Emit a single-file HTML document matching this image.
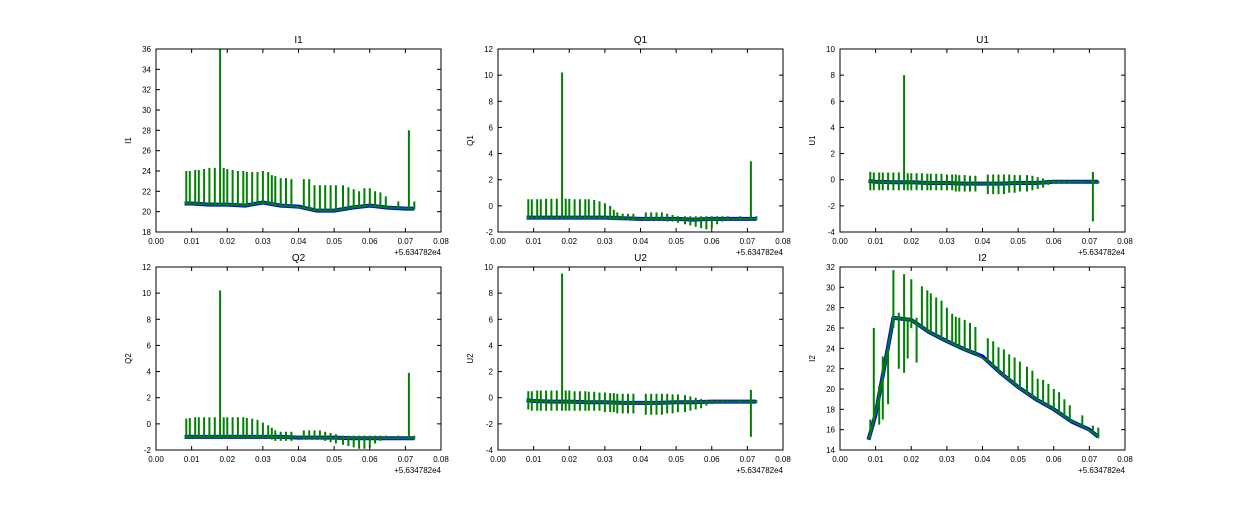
<!DOCTYPE html>
<html><head><meta charset="utf-8">
<style>
body{margin:0;background:#fff;}
svg text{font-family:"Liberation Sans","DejaVu Sans",sans-serif;}
</style></head>
<body>
<svg id="fig" width="1250" height="500" xmlns="http://www.w3.org/2000/svg"></svg>
<script>
const spikeX = [0.0085,0.0095,0.011,0.012,0.0135,0.015,0.0165,0.018,0.019,0.020,0.0215,0.023,0.0245,0.0255,0.027,0.0285,0.030,0.0315,0.0325,0.0335,0.035,0.0365,0.038,0.0415,0.043,0.0445,0.046,0.0475,0.049,0.0505,0.0525,0.054,0.0555,0.057,0.0585,0.060,0.0615,0.063,0.0645,0.068,0.071,0.0725];
const baseX = [0.008,0.01,0.015,0.02,0.025,0.03,0.035,0.04,0.045,0.05,0.055,0.06,0.065,0.07,0.0725];
const xTicks = [0.00,0.01,0.02,0.03,0.04,0.05,0.06,0.07,0.08];

const I1Base = [20.8,20.8,20.7,20.7,20.6,20.9,20.6,20.5,20.1,20.1,20.4,20.6,20.4,20.3,20.3];
const I1Top = [24.0,24.0,24.1,24.1,24.2,24.3,24.3,36,24.3,24.2,24.1,24.0,24.0,23.9,23.9,23.9,24.0,23.9,23.6,23.5,23.3,23.3,23.2,23.2,23.2,22.6,22.6,22.6,22.6,22.6,22.6,22.4,22.2,22.0,22.3,22.3,22.0,21.9,21.5,21.0,28,21.0];
const I1Bot = [];
const Q1Base = [-0.9,-0.9,-0.9,-0.9,-0.9,-0.9,-0.95,-1.0,-1.0,-1.0,-1.05,-1.0,-1.0,-1.0,-1.0];
const Q1Top = [0.5,0.5,0.5,0.5,0.55,0.55,0.55,10.2,0.55,0.55,0.5,0.5,0.5,0.5,0.45,0.35,0.2,0.0,-0.3,-0.5,-0.6,-0.6,-0.6,-0.5,-0.5,-0.5,-0.5,-0.6,-0.7,-0.8,-0.8,-0.8,-0.8,-0.8,-0.8,-0.8,-0.8,-0.8,-0.8,-0.8,3.4,-0.8];
const Q1Bot = [-1,-1,-1,-1,-1,-1,-1,-1,-1,-1,-1,-1,-1,-1,-1,-1,-1,-1,-1.1,-1.1,-1.1,-1.1,-1.1,-1.1,-1.1,-1.1,-1.1,-1.2,-1.2,-1.3,-1.4,-1.5,-1.6,-1.7,-1.8,-1.7,-1.4,-1.2,-1.1,-1.1,-1.1,-1.1];
const U1Base = [-0.1,-0.15,-0.2,-0.2,-0.25,-0.25,-0.3,-0.3,-0.3,-0.25,-0.25,-0.15,-0.15,-0.15,-0.15];
const U1Top = [0.6,0.55,0.55,0.55,0.55,0.55,0.55,8.0,0.5,0.5,0.5,0.5,0.45,0.45,0.45,0.45,0.4,0.4,0.4,0.35,0.35,0.3,0.3,0.4,0.4,0.4,0.4,0.4,0.35,0.35,0.35,0.3,0.2,0.1,0.0,0.0,-0.05,-0.05,-0.1,-0.1,0.6,-0.1];
const U1Bot = [-0.8,-0.8,-0.8,-0.8,-0.8,-0.8,-0.8,-0.8,-0.8,-0.8,-0.8,-0.8,-0.8,-0.8,-0.8,-0.8,-0.8,-0.8,-0.9,-0.9,-0.9,-0.9,-0.9,-1.1,-1.1,-1.1,-1.1,-1.0,-1.0,-0.9,-0.9,-0.8,-0.7,-0.6,-0.4,-0.3,-0.3,-0.3,-0.3,-0.3,-3.2,-0.3];
const Q2Base = [-1.0,-1.0,-1.0,-1.0,-1.0,-1.0,-1.0,-1.05,-1.05,-1.05,-1.1,-1.1,-1.1,-1.1,-1.1];
const Q2Top = [0.4,0.45,0.5,0.5,0.5,0.5,0.5,10.2,0.5,0.5,0.5,0.5,0.5,0.45,0.4,0.3,0.1,-0.1,-0.3,-0.5,-0.6,-0.6,-0.6,-0.5,-0.5,-0.5,-0.5,-0.6,-0.7,-0.8,-0.9,-0.9,-0.9,-0.9,-0.9,-0.9,-0.9,-0.9,-0.9,-0.9,3.9,-0.9];
const Q2Bot = [-1.1,-1.1,-1.1,-1.1,-1.1,-1.1,-1.1,-1.1,-1.1,-1.1,-1.1,-1.1,-1.1,-1.1,-1.1,-1.1,-1.1,-1.1,-1.2,-1.3,-1.3,-1.3,-1.3,-1.2,-1.2,-1.2,-1.2,-1.3,-1.4,-1.5,-1.6,-1.7,-1.8,-1.9,-1.9,-1.8,-1.5,-1.3,-1.2,-1.2,-1.2,-1.2];
const U2Base = [-0.2,-0.25,-0.3,-0.3,-0.35,-0.35,-0.4,-0.4,-0.4,-0.35,-0.35,-0.3,-0.3,-0.3,-0.3];
const U2Top = [0.5,0.5,0.55,0.55,0.55,0.55,0.55,9.5,0.55,0.55,0.5,0.5,0.5,0.45,0.45,0.4,0.4,0.35,0.35,0.3,0.3,0.3,0.3,0.3,0.3,0.3,0.3,0.3,0.25,0.25,0.2,0.1,0.0,-0.1,-0.2,-0.2,-0.2,-0.2,-0.2,-0.2,0.6,-0.2];
const U2Bot = [-0.9,-1.0,-1.0,-1.0,-1.0,-1.0,-1.0,-1.0,-1.0,-1.0,-1.0,-1.0,-1.0,-1.0,-1.0,-1.0,-1.1,-1.1,-1.1,-1.2,-1.2,-1.2,-1.2,-1.3,-1.3,-1.3,-1.3,-1.2,-1.2,-1.1,-1.1,-1.0,-0.9,-0.8,-0.6,-0.5,-0.4,-0.4,-0.4,-0.4,-3.0,-0.4];
const I2Base = [15.0,17.5,27.0,26.8,25.6,24.7,23.9,23.2,21.6,20.2,19.0,18.0,16.8,16.0,15.3];
const I2Top = [17.0,26.0,20.3,23.2,21.0,31.7,27.5,31.3,27.0,30.8,27.0,30.1,29.7,29.4,29.0,28.7,28.0,27.4,27.1,27.0,26.8,26.5,26.1,25.0,24.7,24.1,23.9,23.4,23.1,22.7,22.2,21.8,21.0,20.9,20.5,20.0,19.7,19.0,18.4,17.4,16.4,16.2];
const I2Bot = [15.2,17.0,16.5,17.0,18.5,26.0,22.0,21.6,23.0,26.0,22.6];

const panels = [
 {name:'I1',col:0,row:0,ymin:18,ymax:36,step:2,base:I1Base,top:I1Top,bot:I1Bot},
 {name:'Q1',col:1,row:0,ymin:-2,ymax:12,step:2,base:Q1Base,top:Q1Top,bot:Q1Bot},
 {name:'U1',col:2,row:0,ymin:-4,ymax:10,step:2,base:U1Base,top:U1Top,bot:U1Bot},
 {name:'Q2',col:0,row:1,ymin:-2,ymax:12,step:2,base:Q2Base,top:Q2Top,bot:Q2Bot},
 {name:'U2',col:1,row:1,ymin:-4,ymax:10,step:2,base:U2Base,top:U2Top,bot:U2Bot},
 {name:'I2',col:2,row:1,ymin:14,ymax:32,step:2,base:I2Base,top:I2Top,bot:I2Bot}
];

const NS='http://www.w3.org/2000/svg';
const fig=document.getElementById('fig');
function mk(tag,attrs,parent){const e=document.createElementNS(NS,tag);for(const k in attrs)e.setAttribute(k,attrs[k]);(parent||fig).appendChild(e);return e;}
function interp(xs,ys,x){if(x<=xs[0])return ys[0];for(let i=1;i<xs.length;i++){if(x<=xs[i]){const t=(x-xs[i-1])/(xs[i]-xs[i-1]);return ys[i-1]+t*(ys[i]-ys[i-1]);}}return ys[ys.length-1];}

const W=285,H=183;
panels.forEach(p=>{
  const L=[156,498,840][p.col], T=[49,267][p.row];
  const sx=v=>L+v/0.08*W;
  const sy=v=>T+H-(v-p.ymin)/(p.ymax-p.ymin)*H;
  const g=mk('g',{});
  
  
  const clipId='clip'+p.name;
  const cp=mk('clipPath',{id:clipId},g);mk('rect',{x:L,y:T,width:W,height:H},cp);
  const plot=mk('g',{'clip-path':'url(#'+clipId+')'},g);
  // blue
  let bd='';baseX.forEach((x,i)=>{bd+=(i?'L':'M')+sx(x).toFixed(1)+' '+sy(p.base[i]).toFixed(1);});
  const bl=mk('path',{d:bd,fill:'none',stroke:'#0000ff','stroke-width':4,'stroke-linejoin':'round'},plot);
  
  
  // green
  let gd='M'+sx(baseX[0]).toFixed(1)+' '+sy(p.base[0]).toFixed(1);
  spikeX.forEach((x,i)=>{
    const b=interp(baseX,p.base,x);
    const X=sx(x).toFixed(1);
    const bot=(p.bot[i]!==undefined)?p.bot[i]:b;
    gd+='L'+X+' '+sy(b).toFixed(1)+'L'+X+' '+sy(p.top[i]).toFixed(1)+'L'+X+' '+sy(Math.min(bot,b)).toFixed(1)+'L'+X+' '+sy(b).toFixed(1);
  });
  gd+='L'+sx(baseX[baseX.length-1]).toFixed(1)+' '+sy(p.base[p.base.length-1]).toFixed(1);
  const gl=mk('path',{d:gd,fill:'none',stroke:'#008000','stroke-width':2},plot);
  
  
  // frame
  const fr=mk('rect',{x:L,y:T,width:W,height:H,fill:'none',stroke:'#000','stroke-width':1},g);
  
  
  // x ticks
  xTicks.forEach(v=>{
    const X=sx(v);
    mk('line',{x1:X,x2:X,y1:T+H,y2:T+H-4,stroke:'#000'},g);
    mk('line',{x1:X,x2:X,y1:T,y2:T+4,stroke:'#000'},g);
    const t=mk('text',{x:X,y:T+H+12,'font-size':8,'text-anchor':'middle'},g);t.textContent=v.toFixed(2);
    
    
  });
  for(let v=p.ymin;v<=p.ymax+1e-9;v+=p.step){
    const Y=sy(v);
    mk('line',{x1:L,x2:L+4,y1:Y,y2:Y,stroke:'#000'},g);
    mk('line',{x1:L+W,x2:L+W-4,y1:Y,y2:Y,stroke:'#000'},g);
    const t=mk('text',{x:L-5,y:Y+3,'font-size':8,'text-anchor':'end'},g);t.textContent=v;
    
    
  }
  const off=mk('text',{x:L+W,y:T+H+23,'font-size':8,'text-anchor':'end'},g);off.textContent='+5.634782e4';
  
  
  const ti=mk('text',{x:L+W/2,y:T-6,'font-size':10,'text-anchor':'middle'},g);ti.textContent=p.name;
  
  
  const yl=mk('text',{x:0,y:0,'font-size':8,'text-anchor':'middle',transform:'translate('+(L-25)+','+(T+H/2)+') rotate(-90)'},g);yl.textContent=p.name;
  
  
});
</script>
</body></html>
